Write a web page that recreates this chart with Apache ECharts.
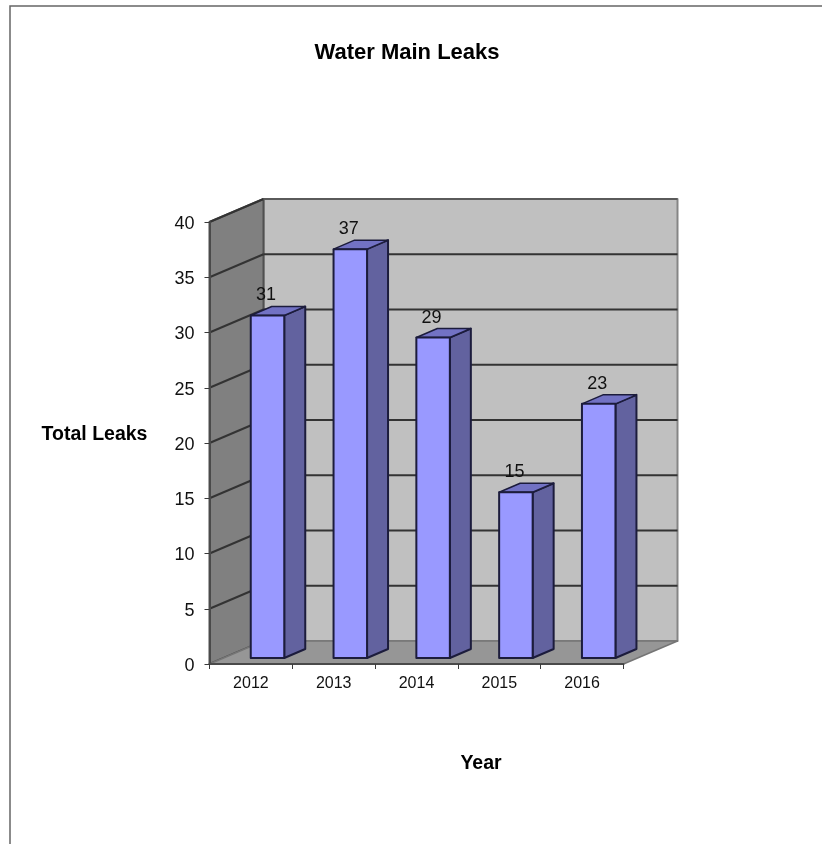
<!DOCTYPE html>
<html>
<head>
<meta charset="utf-8">
<style>
    html, body { margin: 0; padding: 0; background: #fff; }
    #chart { width: 822px; height: 844px; }
</style>
<script src="https://cdn.jsdelivr.net/npm/echarts@6/dist/echarts.min.js"></script>
</head>
<body>
<div id="chart"></div>
<script>
// 数据
let years = ['2012', '2013', '2014', '2015', '2016'];
let leaks = [31, 37, 29, 15, 23];
let yTicks = [0, 5, 10, 15, 20, 25, 30, 35, 40];

// 3D 偏移量
let wallDx = 54, wallDy = -23;
let barDx = 21, barDy = -9;
let barShiftX = 16.6, barShiftY = -6, barWidth = 33.5;
let lineColor = '#333';
let font = '"Liberation Sans", Arial, sans-serif';

function poly(points, fill, stroke, width) {
    return {
        type: 'polygon',
        shape: {points: points},
        style: {fill: fill, stroke: stroke, lineWidth: width, lineJoin: 'round'}
    };
}

function line(a, b, color, width) {
    return {
        type: 'line',
        shape: {x1: a[0], y1: a[1], x2: b[0], y2: b[1]},
        style: {stroke: color, lineWidth: width}
    };
}

// 背景墙、侧墙、底面和网格线
function renderWalls(params, api) {
    if(params.dataIndex !== 0) {
        return null;
    }
    let c = params.coordSys;
    let left = c.x, right = c.x + c.width;
    let bottom = c.y + c.height, top = c.y;
    let back = p => [p[0] + wallDx, p[1] + wallDy];
    let children = [
        poly([back([left, top]), back([right, top]), back([right, bottom]), back([left, bottom])], '#c0c0c0', '#858585', 2),
        poly([[left, top], back([left, top]), back([left, bottom]), [left, bottom]], '#808080', '#505050', 2),
        poly([[left, bottom], back([left, bottom]), back([right, bottom]), [right, bottom]], '#969696', '#757575', 1.5)
    ];
    yTicks.forEach(value => {
        let y = api.coord([0, value])[1];
        if(value > 0) {
            children.push(line([left, y], back([left, y]), lineColor, 2));
            children.push(line(back([left, y]), back([right, y]), value === 40 ? '#5a5a5a' : lineColor, 2));
        }
    });
    return {type: 'group', children: children};
}

// 单个立体柱
function renderBar(params, api) {
    let index = api.value(0);
    let value = api.value(1);
    let base = api.coord([index, 0]);
    let peak = api.coord([index, value]);
    let x1 = base[0] + barShiftX - barWidth / 2;
    let x2 = x1 + barWidth;
    let y1 = peak[1] + barShiftY;
    let y2 = base[1] + barShiftY;
    return {
        type: 'group',
        children: [
            poly([[x2, y1], [x2 + barDx, y1 + barDy], [x2 + barDx, y2 + barDy], [x2, y2]], '#62629f', '#1c1c3c', 2),
            poly([[x1, y1], [x1 + barDx, y1 + barDy], [x2 + barDx, y1 + barDy], [x2, y1]], '#7272c4', '#1c1c3c', 1.5),
            poly([[x1, y1], [x2, y1], [x2, y2], [x1, y2]], '#9999ff', '#1c1c3c', 2),
            {
                type: 'text',
                x: (x1 + x2) / 2 - 1.5,
                y: y1 - 20,
                style: {
                    text: String(value),
                    fill: '#111',
                    font: '18px ' + font,
                    align: 'center',
                    verticalAlign: 'middle'
                }
            }
        ]
    };
}

let myChart = echarts.init(document.getElementById('chart'), null, {renderer: 'canvas'});

myChart.setOption({
    animation: false,
    backgroundColor: '#fff',
    title: [
        {text: 'Water Main Leaks', left: 402, top: 48, textAlign: 'center', textVerticalAlign: 'middle',
            textStyle: {fontFamily: font, fontSize: 22, fontWeight: 'bold', color: '#000'}},
        {text: 'Total Leaks', left: 89.5, top: 430, textAlign: 'center', textVerticalAlign: 'middle',
            textStyle: {fontFamily: font, fontSize: 19.5, fontWeight: 'bold', color: '#000'}},
        {text: 'Year', left: 476, top: 759, textAlign: 'center', textVerticalAlign: 'middle',
            textStyle: {fontFamily: font, fontSize: 19.5, fontWeight: 'bold', color: '#000'}}
    ],
    grid: {left: 209.5, top: 222, width: 414, height: 442},
    xAxis: {
        type: 'category',
        data: years,
        z: 5,
        axisLine: {lineStyle: {color: '#4a4a4a', width: 2}},
        axisTick: {show: true, alignWithLabel: false, length: 5, lineStyle: {color: '#3a3a3a'}},
        axisLabel: {fontFamily: font, fontSize: 16, color: '#111', margin: 12}
    },
    yAxis: {
        type: 'value',
        min: 0,
        max: 40,
        interval: 5,
        z: 5,
        axisLine: {show: true, lineStyle: {color: '#4a4a4a', width: 2}},
        axisTick: {show: true, length: 5, lineStyle: {color: '#3a3a3a'}},
        axisLabel: {
            margin: 15,
            formatter: '{v|{value}}',
            rich: {v: {fontFamily: font, fontSize: 18, color: '#111', padding: [4, 0, 0, 0]}}
        },
        splitLine: {show: false}
    },
    series: [
        {type: 'custom', coordinateSystem: 'cartesian2d', renderItem: renderWalls, data: [[0, 0]], z: 1, silent: true},
        {type: 'custom', coordinateSystem: 'cartesian2d', renderItem: renderBar,
            data: years.map((y, i) => [i, leaks[i]]), z: 2, silent: true}
    ],
    graphic: [
        {type: 'polyline', shape: {points: [[10, 844], [10, 6], [822, 6]]},
            style: {fill: null, stroke: '#666', lineWidth: 1.5}, silent: true}
    ]
});
</script>
</body>
</html>
